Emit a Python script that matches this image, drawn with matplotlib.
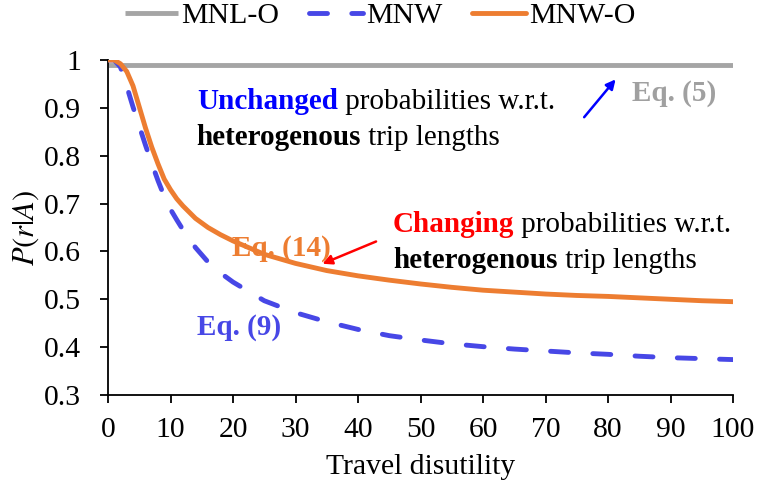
import matplotlib
matplotlib.use("Agg")
import matplotlib.pyplot as plt
from matplotlib.ticker import FuncFormatter, MultipleLocator

plt.rcParams['font.family'] = ['Liberation Serif', 'DejaVu Serif']
plt.rcParams['mathtext.fontset'] = 'stix'

# Data
x_vals = [0, 1, 2, 3, 4, 5, 6, 7, 8, 9, 10, 11, 12, 14, 16, 18, 20, 25, 30, 35, 40,
          45, 50, 55, 60, 65, 70, 75, 80, 85, 90, 95, 100]
mnl_o = [0.99] * len(x_vals)
mnw = [1.0, 1.0, 0.985, 0.945, 0.902, 0.862, 0.822, 0.784, 0.748, 0.715, 0.688, 0.666,
       0.645, 0.608, 0.578, 0.555, 0.536, 0.497, 0.472, 0.453, 0.437, 0.424, 0.415,
       0.407, 0.401, 0.396, 0.392, 0.388, 0.385, 0.381, 0.378, 0.376, 0.374]
mnw_o = [1.0, 1.0, 0.992, 0.976, 0.946, 0.902, 0.858, 0.818, 0.783, 0.751, 0.729, 0.710,
         0.695, 0.669, 0.650, 0.635, 0.622, 0.594, 0.575, 0.560, 0.549, 0.540, 0.532,
         0.525, 0.519, 0.515, 0.511, 0.508, 0.506, 0.503, 0.500, 0.497, 0.495]
series_names = ["MNL-O", "MNW", "MNW-O"]

fig = plt.figure(figsize=(7.57, 4.90), dpi=100)
ax = fig.add_axes([108/757, 1-395/490, (733-108)/757, (395-60)/490])

lw = 3.5
ax.plot(x_vals, mnl_o, color='#A5A5A5', lw=lw, solid_capstyle='butt', label=series_names[0], zorder=2)
ax.plot(x_vals, mnw, color='#4747E6', lw=lw, dashes=(3.7, 5.0), dash_capstyle='round',
        solid_joinstyle='round', label=series_names[1], zorder=3)
ax.plot(x_vals, mnw_o, color='#ED7D31', lw=lw, solid_capstyle='round', solid_joinstyle='round',
        label=series_names[2], zorder=4)

ax.set_xlim(0, 100)
ax.set_ylim(0.3, 1.0)
ax.xaxis.set_major_locator(MultipleLocator(10))
ax.yaxis.set_major_locator(MultipleLocator(0.1))
ax.yaxis.set_major_formatter(FuncFormatter(lambda v, p: "1" if abs(v - 1) < 1e-9 else f"{v:.1f}"))
for s in ['top', 'right']:
    ax.spines[s].set_visible(False)
for s in ['left', 'bottom']:
    ax.spines[s].set_linewidth(1.3)
ax.tick_params(axis='both', direction='out', length=6, width=1.3, labelsize=21.3)
ax.tick_params(axis='y', pad=13.5)
ax.tick_params(axis='x', pad=10)
ax.set_xlabel("Travel disutility", fontsize=21.3, labelpad=8)
ax.set_ylabel(r"$P(r|A)$", fontsize=22, labelpad=2)

leg = fig.legend(loc='upper center', bbox_to_anchor=(0.502, 1.05), ncol=3, frameon=False,
                 fontsize=21.5, handlelength=1.8, handletextpad=0.1, columnspacing=1.0)

fs = 21
def two_part(x, y, bold_txt, rest_txt, color):
    t1 = ax.text(x, y, bold_txt, fontsize=fs, fontweight='bold', color=color, va='center', ha='left')
    ax.annotate(rest_txt, xy=(1, 0), xycoords=t1, fontsize=fs, color='black', va='bottom', ha='left')

two_part(14.2, 0.914, "Unchanged", " probabilities w.r.t.", '#0000FF')
two_part(14.2, 0.839, "heterogenous", " trip lengths", 'black')
two_part(45.6, 0.656, "Changing", " probabilities w.r.t.", '#FF0000')
two_part(45.6, 0.581, "heterogenous", " trip lengths", 'black')

ax.text(83.8, 0.931, "Eq. (5)", fontsize=fs, fontweight='bold', color='#A0A0A0', va='center', ha='left')
ax.text(19.8, 0.606, "Eq. (14)", fontsize=fs, fontweight='bold', color='#ED7D31', va='center', ha='left')
ax.text(14.2, 0.442, "Eq. (9)", fontsize=fs, fontweight='bold', color='#4747E6', va='center', ha='left')

ax.annotate("", xy=(81.5, 0.964), xytext=(75.9, 0.876),
            arrowprops=dict(arrowstyle='-|>', color='#0000FF', lw=1.8, mutation_scale=14))
ax.annotate("", xy=(33.9, 0.572), xytext=(43.3, 0.623),
            arrowprops=dict(arrowstyle='-|>', color='#FF0000', lw=1.8, mutation_scale=14))

fig.savefig("out.png", dpi=100)
